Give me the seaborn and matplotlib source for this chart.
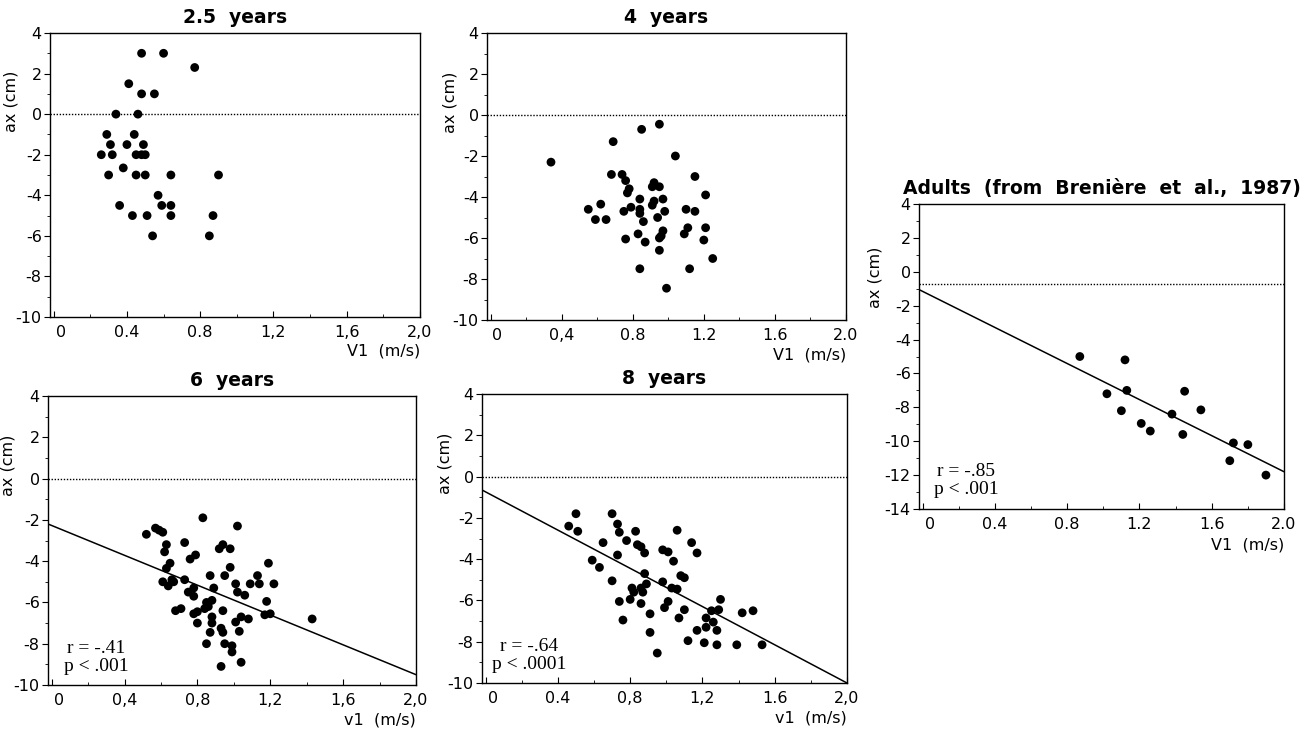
import numpy as np
import matplotlib
matplotlib.use("Agg")
import matplotlib.pyplot as plt
import matplotlib.transforms as mtransforms
import seaborn as sns
import pandas as pd

# data: v1 (m/s) and ax (cm) per age group
v1_25 = [0.48, 0.60, 0.77, 0.41, 0.48, 0.55, 0.34, 0.46, 0.29, 0.44, 0.31, 0.40, 0.49,
         0.26, 0.32, 0.45, 0.48, 0.50, 0.30, 0.38, 0.45, 0.50, 0.64, 0.90, 0.57, 0.36,
         0.59, 0.64, 0.43, 0.51, 0.64, 0.87, 0.54, 0.85]
ax_25 = [3.0, 3.0, 2.3, 1.5, 1.0, 1.0, 0.0, 0.0, -1.0, -1.0, -1.5, -1.5, -1.5,
         -2.0, -2.0, -2.0, -2.0, -2.0, -3.0, -2.65, -3.0, -3.0, -3.0, -3.0, -4.0, -4.5,
         -4.5, -4.5, -5.0, -5.0, -5.0, -5.0, -6.0, -6.0]

v1_4 = [0.34, 0.69, 0.85, 0.95, 1.04, 0.68, 0.74, 0.76, 1.15, 0.92, 0.91, 0.95, 0.78,
        0.77, 1.21, 0.84, 0.97, 0.92, 0.91, 0.62, 0.55, 0.79, 0.75, 0.84, 0.84, 0.98,
        1.10, 1.15, 0.59, 0.65, 0.86, 0.94, 0.97, 0.96, 0.95, 1.11, 1.09, 1.21, 0.83,
        0.76, 0.87, 1.20, 0.95, 1.25, 0.84, 1.12, 0.99]
ax_4 = [-2.3, -1.3, -0.7, -0.45, -2.0, -2.9, -2.9, -3.2, -3.0, -3.3, -3.5, -3.5, -3.6,
        -3.8, -3.9, -4.1, -4.1, -4.2, -4.4, -4.35, -4.6, -4.5, -4.7, -4.6, -4.8, -4.7,
        -4.6, -4.7, -5.1, -5.1, -5.2, -5.0, -5.65, -5.9, -6.0, -5.5, -5.8, -5.5, -5.8,
        -6.05, -6.2, -6.1, -6.6, -7.0, -7.5, -7.5, -8.45]

v1_6 = [0.52, 0.57, 0.59, 0.61, 0.83, 1.02, 0.63, 0.62, 0.73, 0.94, 0.92, 0.98, 0.79,
        0.76, 1.19, 0.65, 0.63, 0.98, 0.87, 0.95, 1.13, 0.73, 0.66, 0.61, 0.64, 0.67,
        1.01, 1.09, 1.14, 1.22, 0.89, 1.02, 0.78, 0.75, 0.78, 1.06, 0.88, 0.85, 0.84,
        0.86, 1.18, 0.94, 0.68, 0.71, 0.80, 0.78, 0.88, 1.04, 1.08, 1.01, 1.17, 1.20,
        0.80, 0.88, 0.93, 0.94, 0.87, 1.03, 1.43, 0.85, 0.95, 0.99, 0.99, 0.93, 1.04]
ax_6 = [-2.7, -2.4, -2.5, -2.6, -1.9, -2.3, -3.2, -3.55, -3.1, -3.2, -3.4, -3.4, -3.7,
        -3.9, -4.1, -4.1, -4.35, -4.3, -4.7, -4.7, -4.7, -4.9, -4.9, -5.0, -5.2, -5.0,
        -5.1, -5.1, -5.1, -5.1, -5.3, -5.5, -5.3, -5.5, -5.7, -5.65, -5.9, -6.0, -6.3,
        -6.2, -5.95, -6.4, -6.4, -6.3, -6.45, -6.55, -6.7, -6.7, -6.8, -6.95, -6.6, -6.55,
        -7.0, -7.0, -7.25, -7.45, -7.45, -7.4, -6.8, -8.0, -8.0, -8.1, -8.4, -9.1, -8.9]

v1_8 = [0.46, 0.50, 0.51, 0.70, 0.73, 0.74, 0.83, 0.65, 0.78, 0.84, 0.86, 0.88, 0.73,
        0.59, 0.63, 0.98, 1.01, 1.14, 1.17, 1.06, 1.04, 0.88, 0.70, 0.89, 0.98, 1.08,
        1.10, 0.81, 0.86, 0.82, 0.87, 1.03, 1.06, 0.80, 0.86, 0.74, 1.01, 0.99, 1.30,
        1.10, 1.29, 1.25, 1.42, 1.48, 0.76, 0.91, 1.07, 1.22, 1.22, 1.26, 1.17, 1.28,
        0.91, 1.12, 1.21, 1.28, 1.39, 1.53, 0.95]
ax_8 = [-2.4, -1.8, -2.65, -1.8, -2.3, -2.7, -2.65, -3.2, -3.1, -3.3, -3.4, -3.7, -3.8,
        -4.05, -4.4, -3.55, -3.65, -3.2, -3.7, -2.6, -4.1, -4.7, -5.05, -5.2, -5.1, -4.8,
        -4.9, -5.4, -5.4, -5.6, -5.6, -5.4, -5.45, -5.95, -6.15, -6.05, -6.05, -6.35, -5.95,
        -6.45, -6.45, -6.5, -6.6, -6.5, -6.95, -6.65, -6.85, -6.85, -7.3, -7.05, -7.45, -7.45,
        -7.55, -7.95, -8.05, -8.15, -8.15, -8.15, -8.55]

v1_ad = [0.87, 1.12, 1.02, 1.13, 1.45, 1.10, 1.54, 1.38, 1.21, 1.26, 1.44, 1.72, 1.80,
         1.70, 1.90]
ax_ad = [-5.0, -5.2, -7.2, -7.0, -7.05, -8.2, -8.15, -8.4, -8.95, -9.4, -9.6, -10.1, -10.2,
         -11.15, -12.0]

# regression lines as drawn (end points)
fit_x = [-0.02, 2.0]
fit_6 = [-2.2, -9.5]
fit_8 = [-0.65, -10.0]
fit_ad = [-1.05, -11.8]

titles = ["2.5  years", "4  years", "6  years", "8  years",
          "Adults  (from  Brenière  et  al.,  1987)"]
xlabels = ["V1  (m/s)", "V1  (m/s)", "v1  (m/s)", "v1  (m/s)", "V1  (m/s)"]
xtick_vals = [0, 0.4, 0.8, 1.2, 1.6, 2.0]
xtick_labels = [
    ["0", "0.4", "0.8", "1,2", "1,6", "2,0"],
    ["0", "0,4", "0.8", "1.2", "1.6", "2.0"],
    ["0", "0,4", "0,8", "1,2", "1,6", "2,0"],
    ["0", "0.4", "0,8", "1,2", "1.6", "2,0"],
    ["0", "0.4", "0.8", "1.2", "1.6", "2.0"],
]
stats = [None, None, "r = -.41\np < .001", "r = -.64\np < .0001", "r = -.85\np < .001"]
zero_lines = [0.0, 0.0, 0.0, 0.0, -0.75]

sns.set_style("ticks")
plt.rcParams['font.family'] = ['DejaVu Sans']
plt.rcParams['axes.unicode_minus'] = False
for key in ['text.color', 'axes.labelcolor', 'xtick.color', 'ytick.color']:
    plt.rcParams[key] = 'black'

W, H = 1311, 732
fig = plt.figure(figsize=(W / 100, H / 100), dpi=100)
# axes boxes in pixels: left, top, right, bottom
boxes_px = [
    [50, 33, 420, 317],
    [487, 33, 846, 320],
    [48, 396, 416, 685],
    [482, 394, 847, 683],
    [919, 204, 1284, 509],
]
ylab_off = [31, 30, 33, 29, 36]
xs = [v1_25, v1_4, v1_6, v1_8, v1_ad]
ys = [ax_25, ax_4, ax_6, ax_8, ax_ad]
fits = [None, None, fit_6, fit_8, fit_ad]

for i in range(5):
    l, t, r, b = boxes_px[i]
    ax = fig.add_axes([l / W, 1 - b / H, (r - l) / W, (b - t) / H])
    df = pd.DataFrame({"v1": xs[i], "ax": ys[i]})
    sns.scatterplot(data=df, x="v1", y="ax", ax=ax, color="black", s=40,
                    edgecolor="none", zorder=3)
    ax.axhline(zero_lines[i], color="black", lw=1.0, ls=(0, (1, 1.2)))
    if fits[i] is not None:
        sns.lineplot(x=fit_x, y=fits[i], ax=ax, color="black", lw=1.1)
    ax.set_xlim(-0.02, 2.0)
    if i == 4:
        ax.set_ylim(-14, 4)
        ax.set_yticks(np.arange(-14, 5, 2))
        ax.set_yticks(np.arange(-14, 5, 1), minor=True)
    else:
        ax.set_ylim(-10, 4)
        ax.set_yticks(np.arange(-10, 5, 2))
        ax.set_yticks(np.arange(-10, 5, 1), minor=True)
    ax.set_xticks(xtick_vals)
    ax.set_xticklabels(xtick_labels[i])
    ax.set_xticks(np.arange(0, 2.01, 0.2), minor=True)
    ax.tick_params(axis="x", which="both", direction="in", labelsize=11.5, pad=6)
    ax.tick_params(axis="x", which="major", length=4)
    ax.tick_params(axis="x", which="minor", length=2.5)
    ax.tick_params(axis="y", which="both", direction="out", labelsize=11.5, pad=2)
    ax.tick_params(axis="y", which="major", length=4)
    ax.tick_params(axis="y", which="minor", length=2.5)
    # first x label sits a little right of its tick
    first = ax.get_xticklabels()[0]
    first.set_transform(first.get_transform() +
                        mtransforms.ScaledTranslation(0.07, 0, fig.dpi_scale_trans))
    for s in ax.spines.values():
        s.set_visible(True)
        s.set_linewidth(1.0)
        s.set_color("black")
    ax.set_ylabel("ax (cm)", fontsize=11.5)
    ax.yaxis.set_label_coords(-ylab_off[i] / (r - l), 0.76)
    ax.set_xlabel(xlabels[i], fontsize=11.5)
    ax.xaxis.set_label_coords(1.0, -0.095)
    ax.xaxis.label.set_horizontalalignment("right")
    ax.set_title(titles[i], fontsize=13.5, fontweight="bold", pad=7)
    if stats[i] is not None:
        ax.text(0.13, 0.035, stats[i], transform=ax.transAxes, ha="center",
                va="bottom", fontsize=14, family="Liberation Serif",
                linespacing=1.1)

plt.savefig("out.png", dpi=100)
